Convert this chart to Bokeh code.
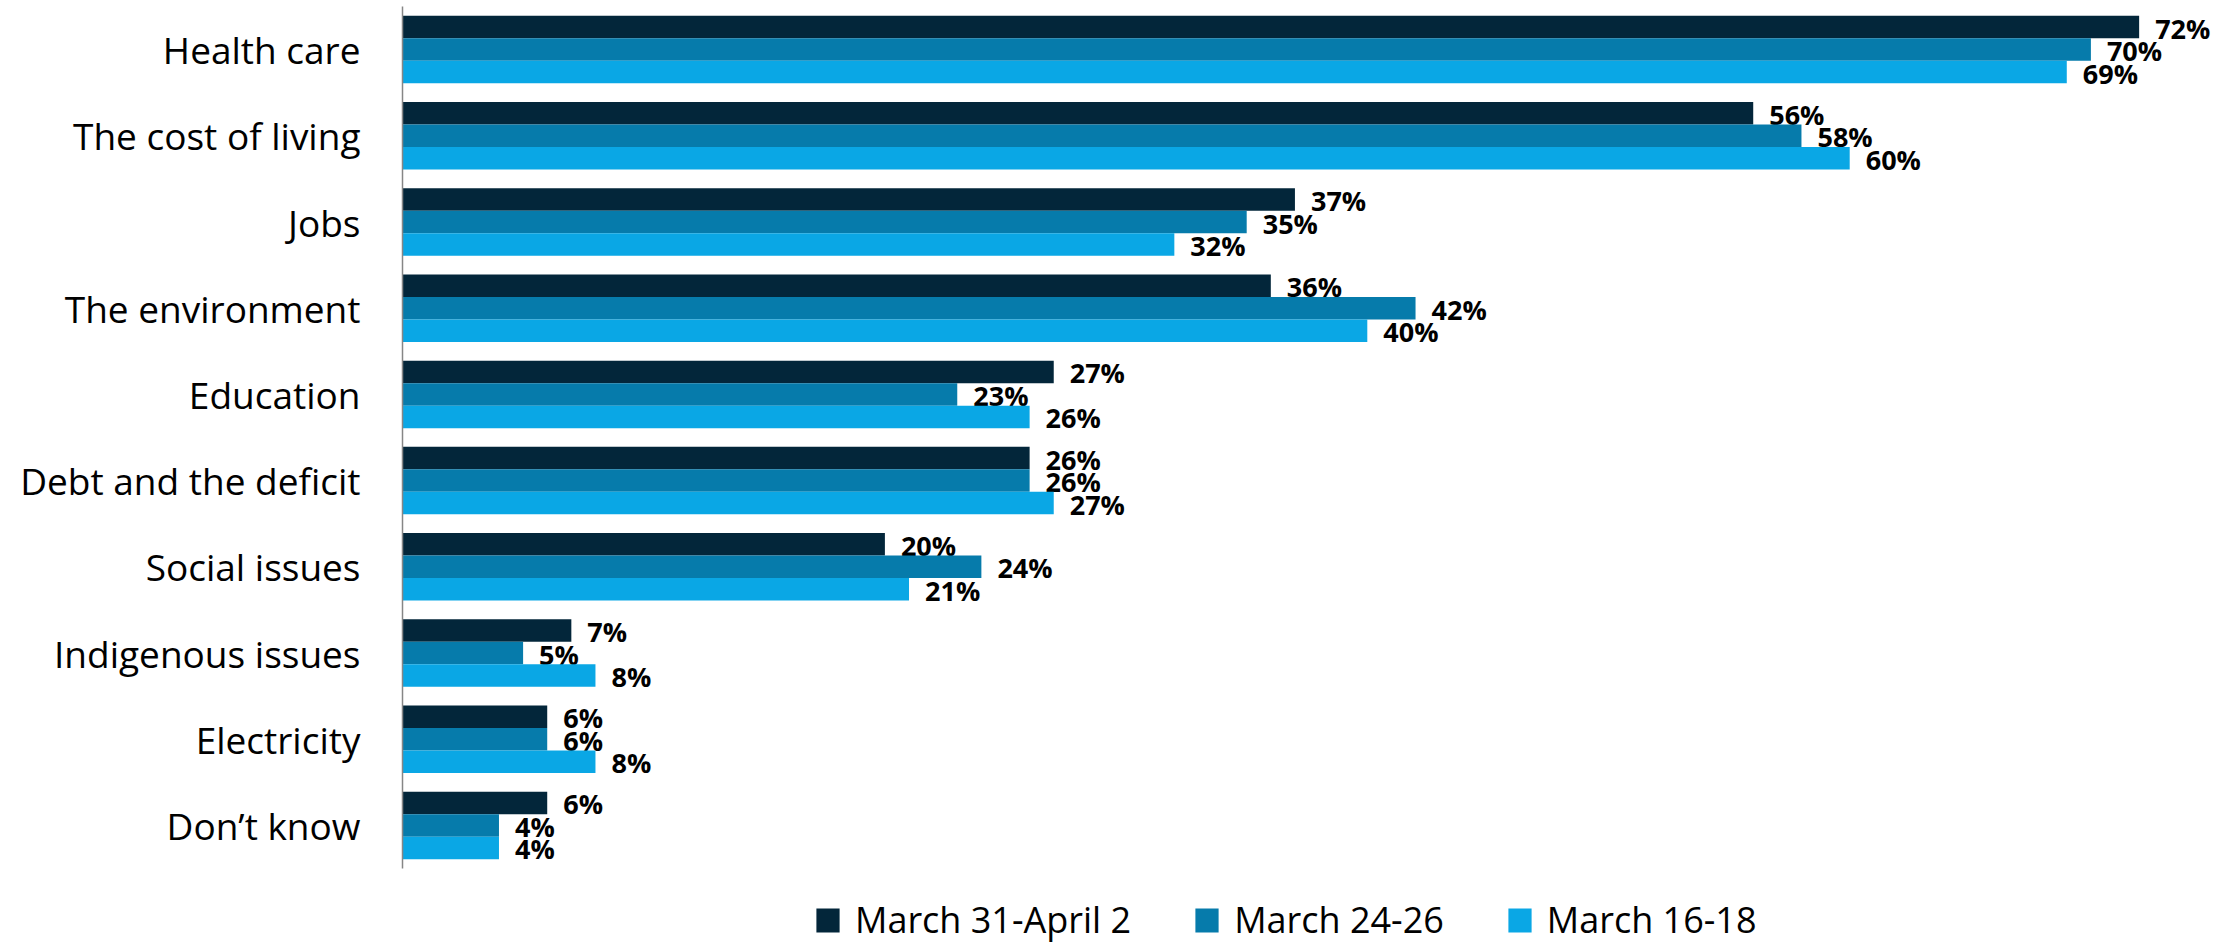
from bokeh.plotting import figure
from bokeh.models import Range1d, Legend, LegendItem, ColumnDataSource, FixedTicker
from bokeh.transform import dodge
from bokeh.core.properties import value
from bokeh.embed import file_html
from bokeh.resources import INLINE

categories = ["Health care", "The cost of living", "Jobs", "The environment", "Education",
              "Debt and the deficit", "Social issues", "Indigenous issues", "Electricity", "Don\u2019t know"]
series_names = ["March 31-April 2", "March 24-26", "March 16-18"]
mar31_apr2 = [72, 56, 37, 36, 27, 26, 20, 7, 6, 6]
mar24_26 = [70, 58, 35, 42, 23, 26, 24, 5, 6, 4]
mar16_18 = [69, 60, 32, 40, 26, 27, 21, 8, 8, 4]
colors = ["#03263a", "#067bab", "#0aa7e5"]

n = len(categories)
ypos = [n - 1 - i for i in range(n)]  # first category at top

W, H = 2227, 946
top_px, pitch = 6, 86.2
frame_h = H - top_px
units = frame_h / pitch
p = figure(width=W, height=H,
           y_range=Range1d(n - 0.5 - units, n - 0.5),
           x_range=Range1d(0, (W - 402) / 24.12),
           output_backend="svg", toolbar_location=None, x_axis_location=None,
           min_border_left=402, min_border_right=0, min_border_top=top_px, min_border_bottom=0)

bar_h = 0.261
offsets = [bar_h, 0, -bar_h]
renderers = []
for vals, name, col, off in zip([mar31_apr2, mar24_26, mar16_18], series_names, colors, offsets):
    src = ColumnDataSource(dict(y=ypos, v=vals, lab=[f"{v}%" for v in vals]))
    r = p.hbar(y=dodge("y", off), right="v", left=0, height=bar_h,
               source=src, fill_color=col, line_color=None)
    renderers.append(r)
    p.text(x="v", y=dodge("y", off), text="lab", source=src,
           x_offset=16, y_offset=1, text_baseline="middle", text_align="left",
           text_font=value("Open Sans"), text_font_style="bold", text_font_size="27px",
           text_color="#000000")

legend = Legend(items=[LegendItem(label=s, renderers=[r]) for s, r in zip(series_names, renderers)],
                orientation="horizontal", location=(411, 2), padding=0, margin=0,
                spacing=61, label_standoff=13, glyph_width=29, glyph_height=30,
                label_height=30, border_line_color=None, background_fill_alpha=0,
                label_text_font="Open Sans", label_text_font_size="36px",
                label_text_color="#000000")
p.add_layout(legend, "center")

p.yaxis.ticker = FixedTicker(ticks=ypos)
p.yaxis.major_label_overrides = {y: c for y, c in zip(ypos, categories)}
p.yaxis.bounds = (-0.5, n - 0.5)
p.yaxis.axis_line_color = "#868686"
p.yaxis.axis_line_width = 1.5
p.yaxis.major_tick_line_color = None
p.yaxis.minor_tick_line_color = None
p.yaxis.major_label_text_font = "Open Sans"
p.yaxis.major_label_text_font_size = "37px"
p.yaxis.major_label_text_color = "#000000"
p.yaxis.major_label_standoff = 36
p.xgrid.visible = False
p.ygrid.visible = False
p.outline_line_color = None
p.background_fill_color = "white"
p.border_fill_color = "white"

open("out.html", "w").write(file_html(p, INLINE))
